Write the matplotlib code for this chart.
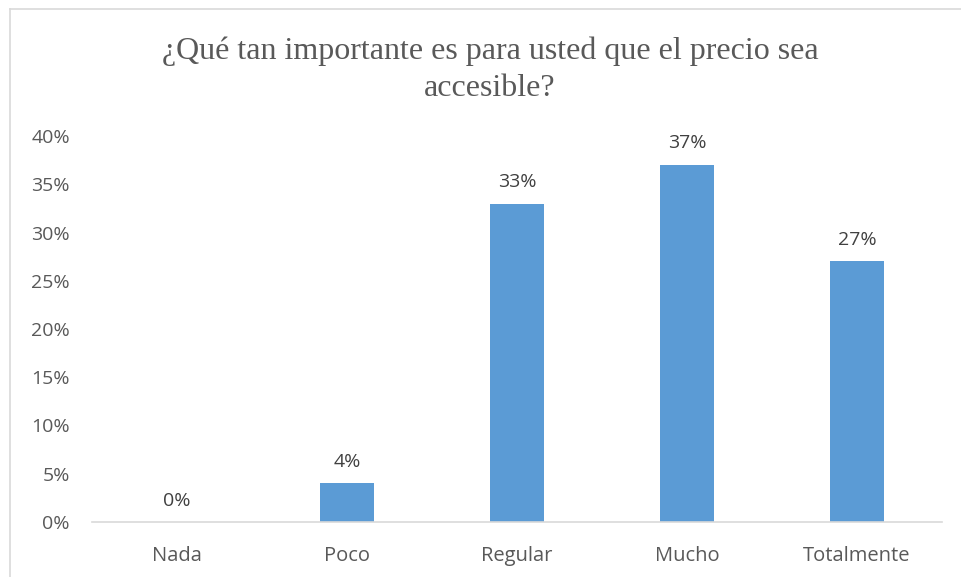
import matplotlib
matplotlib.use("Agg")
import matplotlib.pyplot as plt
from matplotlib.lines import Line2D

categories = ["Nada", "Poco", "Regular", "Mucho", "Totalmente"]
values = [0.00, 0.04, 0.33, 0.37, 0.27]
yticks = [0.00, 0.05, 0.10, 0.15, 0.20, 0.25, 0.30, 0.35, 0.40]
title = "¿Qué tan importante es para usted que el precio sea\naccesible?"

W, H = 961, 577
fig = plt.figure(figsize=(W / 100, H / 100), dpi=100)
fig.patch.set_facecolor("white")

# chart frame (top and left edges visible)
fig.add_artist(Line2D([10 / W, 10 / W], [0, 1 - 9 / H], transform=fig.transFigure,
                      color="#D9D9D9", lw=1.2))
fig.add_artist(Line2D([10 / W, 1], [1 - 9 / H, 1 - 9 / H], transform=fig.transFigure,
                      color="#D9D9D9", lw=1.2))

left, right, top, bottom = 92, 942, 136, 522
ax = fig.add_axes([left / W, 1 - bottom / H, (right - left) / W, (bottom - top) / H])

x = range(len(categories))
ax.bar(x, values, width=0.32, color="#5B9BD5", zorder=2)
ax.set_xlim(-0.5, len(categories) - 0.5)
ax.set_ylim(0, 0.40)

sans = ["Open Sans", "DejaVu Sans"]
txt = "#595959"
ax.set_yticks(yticks)
ax.set_yticklabels([f"{round(t * 100)}%" for t in yticks], fontsize=14, color=txt, family=sans)
ax.set_xticks(list(x))
ax.set_xticklabels(categories, fontsize=14.5, color=txt, family=sans)
ax.tick_params(axis="both", length=0)
ax.tick_params(axis="y", pad=16)
ax.tick_params(axis="x", pad=17)

for s in ["top", "right", "left"]:
    ax.spines[s].set_visible(False)
ax.spines["bottom"].set_color("#D9D9D9")
ax.spines["bottom"].set_linewidth(1.2)

for i, v in zip(x, values):
    ax.annotate(f"{round(v * 100)}%", (i, v), xytext=(0, 9), textcoords="offset points",
                ha="center", va="bottom", fontsize=14, color="#404040", family=sans)

fig.text(490 / W, 1 - 70 / H, title, ha="center", va="center", fontsize=23,
         family=["Liberation Serif", "DejaVu Serif"], color="#595959", linespacing=1.38)

fig.savefig("out.png", dpi=100, facecolor="white")
